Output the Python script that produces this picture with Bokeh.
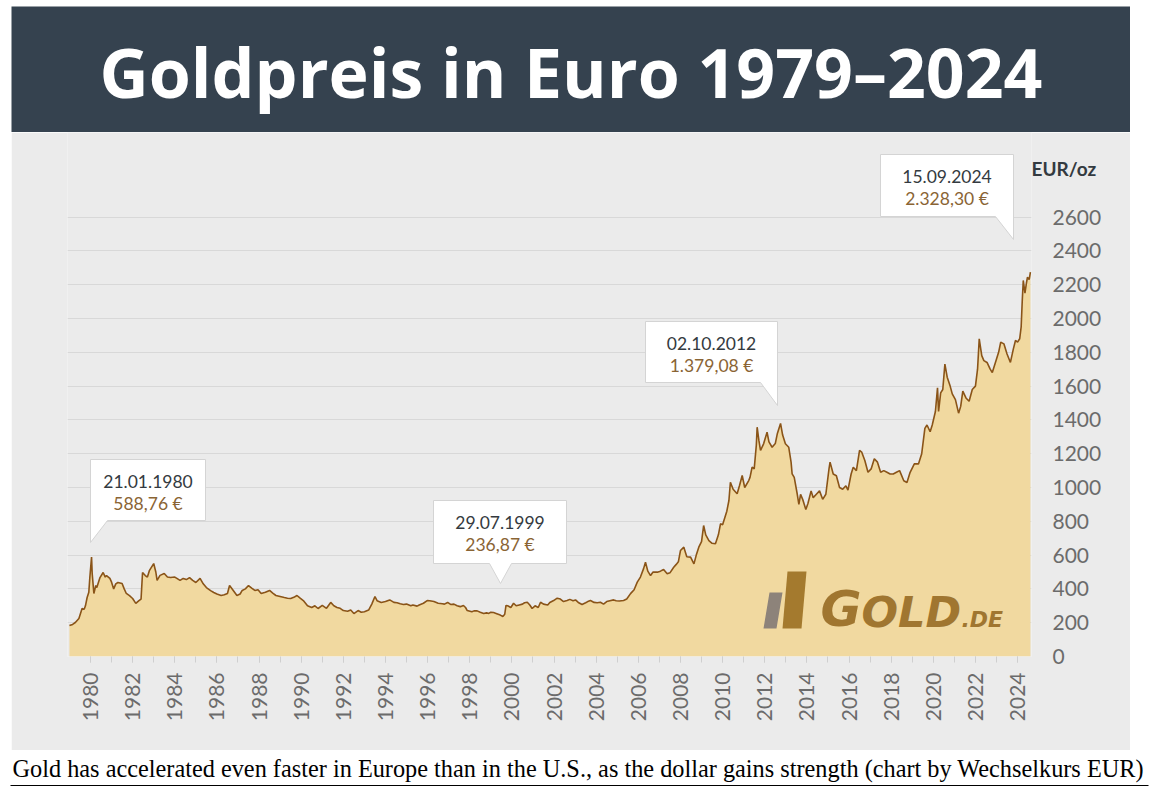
import math
from bokeh.plotting import figure
from bokeh.models import Range1d, FixedTicker, Label, ColumnDataSource, LinearAxis
from bokeh.layouts import column, row
from bokeh.embed import file_html
from bokeh.resources import INLINE
from bokeh.core.properties import value

# ---------------- data ----------------
years = [
    1979.00, 1979.15, 1979.28, 1979.45, 1979.60, 1979.70, 1979.76, 1979.84, 1979.92, 1979.97,
    1980.05, 1980.08, 1980.16, 1980.25, 1980.30, 1980.45, 1980.60, 1980.70, 1980.76, 1980.92,
    1981.00, 1981.10, 1981.20, 1981.30, 1981.50, 1981.60, 1981.70, 1981.85, 1982.00, 1982.15,
    1982.30, 1982.40, 1982.47, 1982.60, 1982.70, 1982.80, 1983.00, 1983.10, 1983.16, 1983.30,
    1983.50, 1983.65, 1983.80, 1984.00, 1984.10, 1984.25, 1984.40, 1984.55, 1984.70, 1984.85,
    1985.00, 1985.20, 1985.35, 1985.50, 1985.70, 1985.85, 1986.00, 1986.20, 1986.35, 1986.50,
    1986.60, 1986.75, 1986.95, 1987.10, 1987.20, 1987.35, 1987.50, 1987.65, 1987.80, 1987.95,
    1988.10, 1988.30, 1988.50, 1988.65, 1988.80, 1989.00, 1989.20, 1989.35, 1989.50, 1989.65,
    1989.80, 1989.95, 1990.10, 1990.30, 1990.50, 1990.65, 1990.80, 1991.00, 1991.20, 1991.40,
    1991.55, 1991.70, 1991.85, 1992.00, 1992.20, 1992.35, 1992.50, 1992.70, 1992.85, 1993.00,
    1993.20, 1993.35, 1993.50, 1993.60, 1993.80, 1994.00, 1994.20, 1994.40, 1994.55, 1994.70,
    1994.85, 1995.00, 1995.20, 1995.30, 1995.50, 1995.60, 1995.80, 1995.98, 1996.10, 1996.30,
    1996.50, 1996.70, 1996.80, 1996.95, 1997.09, 1997.25, 1997.40, 1997.55, 1997.70, 1997.80,
    1997.88, 1998.10, 1998.20, 1998.35, 1998.50, 1998.66, 1998.80, 1998.90, 1999.00, 1999.13,
    1999.25, 1999.35, 1999.45, 1999.57, 1999.66, 1999.72, 1999.80, 1999.95, 2000.08, 2000.20,
    2000.35, 2000.50, 2000.60, 2000.73, 2000.85, 2000.96, 2001.10, 2001.25, 2001.36, 2001.50,
    2001.70, 2001.80, 2001.98, 2002.15, 2002.30, 2002.45, 2002.62, 2002.75, 2002.90, 2003.02,
    2003.15, 2003.33, 2003.50, 2003.60, 2003.73, 2003.90, 2004.05, 2004.20, 2004.35, 2004.50,
    2004.65, 2004.83, 2004.95, 2005.10, 2005.30, 2005.45, 2005.63, 2005.80, 2005.95, 2006.10,
    2006.25, 2006.34, 2006.45, 2006.58, 2006.70, 2006.90, 2007.05, 2007.20, 2007.37, 2007.50,
    2007.68, 2007.80, 2007.90, 2008.00, 2008.16, 2008.30, 2008.48, 2008.64, 2008.75, 2008.87,
    2009.00, 2009.10, 2009.20, 2009.35, 2009.50, 2009.66, 2009.80, 2009.90, 2010.00, 2010.10,
    2010.20, 2010.30, 2010.37, 2010.50, 2010.69, 2010.80, 2010.93, 2011.05, 2011.24, 2011.30,
    2011.40, 2011.50, 2011.60, 2011.64, 2011.72, 2011.80, 2011.95, 2012.11, 2012.20, 2012.35,
    2012.50, 2012.60, 2012.75, 2012.85, 2012.98, 2013.14, 2013.25, 2013.30, 2013.40, 2013.54,
    2013.62, 2013.70, 2013.80, 2013.95, 2014.05, 2014.20, 2014.30, 2014.45, 2014.60, 2014.75,
    2014.90, 2015.05, 2015.10, 2015.25, 2015.40, 2015.55, 2015.70, 2015.85, 2015.95, 2016.10,
    2016.20, 2016.35, 2016.50, 2016.60, 2016.75, 2016.90, 2017.05, 2017.20, 2017.35, 2017.50,
    2017.65, 2017.80, 2017.95, 2018.10, 2018.25, 2018.40, 2018.60, 2018.75, 2018.90, 2019.10,
    2019.30, 2019.45, 2019.60, 2019.70, 2019.85, 2019.95, 2020.10, 2020.20, 2020.25, 2020.35,
    2020.45, 2020.55, 2020.66, 2020.80, 2020.90, 2021.05, 2021.20, 2021.30, 2021.40, 2021.55,
    2021.70, 2021.85, 2022.00, 2022.10, 2022.18, 2022.30, 2022.40, 2022.55, 2022.70, 2022.80,
    2022.90, 2023.00, 2023.10, 2023.20, 2023.35, 2023.50, 2023.66, 2023.80, 2023.90, 2024.00,
    2024.10, 2024.17, 2024.22, 2024.27, 2024.35, 2024.42, 2024.47, 2024.55, 2024.61,
]
eur = [
    183, 190, 201, 225, 284, 280, 300, 349, 380, 470,
    589, 491, 373, 420, 408, 467, 497, 470, 479, 462,
    440, 400, 430, 438, 432, 400, 373, 360, 343, 314,
    331, 340, 497, 479, 470, 510, 550, 500, 450, 480,
    491, 470, 467, 470, 462, 450, 462, 455, 467, 450,
    438, 462, 430, 408, 390, 379, 370, 361, 365, 373,
    420, 395, 361, 370, 391, 400, 420, 405, 391, 395,
    373, 380, 391, 375, 361, 355, 349, 345, 343, 350,
    361, 345, 331, 300, 290, 300, 284, 302, 285, 320,
    300, 290, 285, 272, 268, 275, 254, 272, 262, 265,
    275, 310, 355, 330, 320, 325, 335, 320, 318, 312,
    308, 310, 300, 305, 298, 305, 315, 331, 330, 325,
    315, 312, 310, 320, 308, 310, 300, 295, 302, 290,
    272, 265, 270, 270, 262, 254, 258, 255, 262, 260,
    255, 250, 245, 237, 250, 302, 300, 290, 315, 300,
    305, 310, 318, 321, 305, 284, 300, 290, 321, 310,
    305, 320, 331, 345, 340, 325, 331, 338, 330, 335,
    320, 308, 318, 325, 331, 320, 318, 321, 310, 325,
    330, 335, 330, 328, 331, 340, 372, 395, 440, 470,
    520, 558, 505, 479, 500, 499, 505, 515, 489, 495,
    528, 545, 560, 627, 647, 590, 588, 548, 600, 647,
    680, 775, 720, 686, 670, 667, 720, 785, 780, 820,
    860, 923, 1031, 990, 963, 1010, 1071, 1000, 1041, 1060,
    1120, 1110, 1250, 1357, 1280, 1219, 1260, 1327, 1270, 1238,
    1260, 1320, 1379, 1310, 1259, 1238, 1150, 1081, 1060, 963,
    900, 960, 930, 870, 905, 980, 940, 960, 980, 930,
    960, 1110, 1150, 1080, 1070, 1000, 990, 1010, 985, 1080,
    1120, 1100, 1220, 1210, 1160, 1090, 1110, 1170, 1150, 1090,
    1100, 1090, 1080, 1080, 1090, 1100, 1040, 1030, 1090, 1140,
    1140, 1200, 1350, 1370, 1330, 1370, 1450, 1590, 1450, 1560,
    1580, 1730, 1653, 1600, 1554, 1520, 1440, 1480, 1570, 1530,
    1510, 1580, 1600, 1700, 1880, 1780, 1751, 1740, 1700, 1680,
    1720, 1760, 1800, 1860, 1850, 1790, 1740, 1820, 1870, 1860,
    1880, 1950, 2100, 2225, 2150, 2210, 2244, 2230, 2274,
]

tick_years = list(range(1980, 2025, 2))
minor_years = list(range(1980, 2025))
y_ticks = list(range(0, 2601, 200))

callout_dates = ["21.01.1980", "29.07.1999", "02.10.2012", "15.09.2024"]
callout_values = ["588,76 €", "236,87 €", "1.379,08 €", "2.328,30 €"]

TITLE = "Goldpreis in Euro 1979–2024"
CAPTION = ("Gold has accelerated even faster in Europe than in the U.S., "
           "as the dollar gains strength (chart by Wechselkurs EUR)")
UNIT = "EUR/oz"

# ---------------- layout (page pixels) ----------------
PX_YEAR = 21.07     # pixels per year
PX_EUR = 0.169      # pixels per euro
X1980 = 90          # page x of 1980
Y0 = 656            # page y of value 0
F_LEFT, F_RIGHT, F_TOP = 67, 1031, 132
BASE_FIX = 0.37     # text baseline correction, fraction of font size


def dx(px):
    return 1980 + (px - X1980) / PX_YEAR


def dy(py):
    return (Y0 - py) / PX_EUR


UNIT_POS = 2890     # vertical position (in EUR) of the unit label

# ---------------- title bar ----------------
TS = 68
t = figure(width=1119, height=126, x_range=Range1d(0, 1119), y_range=Range1d(0, 126),
           output_backend="svg", toolbar_location=None, x_axis_location=None,
           y_axis_location=None, min_border=0, min_border_left=0, min_border_right=0,
           min_border_top=0, min_border_bottom=0, outline_line_color=None,
           background_fill_color="#35424f", border_fill_color="#35424f",
           margin=(0, 0, 0, 11))
t.xgrid.visible = False
t.ygrid.visible = False
t.text(x=[559.5], y=[36 + BASE_FIX * TS], text=[TITLE], text_align="center",
       text_baseline="alphabetic", text_color="white", text_font=value("Open Sans"),
       text_font_style="bold", text_font_size=f"{TS}px")

# ---------------- main chart ----------------
p = figure(width=1119, height=618,
           x_range=Range1d(dx(F_LEFT), dx(F_RIGHT)), y_range=Range1d(0, dy(F_TOP)),
           output_backend="svg", toolbar_location=None, y_axis_location="right",
           min_border_left=F_LEFT - 11, min_border_right=1130 - F_RIGHT,
           min_border_top=0, min_border_bottom=750 - Y0,
           background_fill_color="#ebebeb", border_fill_color="#ebebeb",
           outline_line_color=None, margin=(0, 0, 0, 11))

p.xgrid.visible = False
p.ygrid.ticker = FixedTicker(ticks=y_ticks)
p.ygrid.grid_line_color = "#d8d8d8"

p.yaxis.ticker = FixedTicker(ticks=y_ticks)
p.xaxis.ticker = FixedTicker(ticks=tick_years, minor_ticks=minor_years)
for ax in (p.xaxis[0], p.yaxis[0]):
    ax.axis_line_color = None
    ax.major_label_text_font = "Lato"
    ax.major_label_text_font_size = "21px"
    ax.major_label_text_color = "#6b6b6b"
xa = p.xaxis[0]
xa.major_tick_line_color = "#cfcfcf"
xa.minor_tick_line_color = "#cfcfcf"
xa.major_tick_in = 0
xa.major_tick_out = 6
xa.minor_tick_in = 0
xa.minor_tick_out = 6
xa.major_label_orientation = math.pi / 2
xa.major_label_standoff = 10
ya = p.yaxis[0]
ya.major_tick_line_color = None
ya.minor_tick_line_color = None
ya.major_tick_in = 0
ya.major_tick_out = 0
ya.major_label_standoff = 21

# unit label, drawn as the single tick label of a second right axis
unit_axis = LinearAxis(ticker=FixedTicker(ticks=[UNIT_POS]),
                       major_label_overrides={UNIT_POS: UNIT},
                       axis_line_color=None, major_tick_line_color=None,
                       minor_tick_line_color=None, major_tick_in=0, major_tick_out=0,
                       major_label_standoff=-73, major_label_text_font="Lato",
                       major_label_text_font_style="bold",
                       major_label_text_font_size="19px",
                       major_label_text_color="#333a40")
p.add_layout(unit_axis, "right")

src = ColumnDataSource(dict(x=years, y=eur))
p.varea(x="x", y1=0, y2="y", source=src, fill_color="#f1d9a0")
p.line(x="x", y="y", source=src, line_color="#8a5418", line_width=1.6)

# logo
p.patch([dx(763), dx(776), dx(782), dx(769)], [dy(628), dy(628), dy(592), dy(592)],
        fill_color="#8d837a", line_color=None)
p.patch([dx(782), dx(801), dx(806), dx(787)], [dy(628), dy(628), dy(571), dy(571)],
        fill_color="#a47a2e", line_color=None)
for txt, xp, size in (("G", 820, 50), ("OLD", 861, 43), (".DE", 961, 22)):
    p.add_layout(Label(x=dx(xp), y=dy(627 - BASE_FIX * size), text=txt,
                       text_font="DejaVu Sans", text_font_style="bold italic",
                       text_font_size=f"{size}px", text_color="#a07630",
                       text_baseline="alphabetic"))

# callouts (page pixel outlines)
callout_shapes = [
    [(90, 459), (205, 459), (205, 520), (107, 520), (90, 542)],
    [(433, 500), (566, 500), (566, 563), (511, 563), (500, 583), (489, 563), (433, 563)],
    [(645, 321), (777, 321), (777, 405), (760, 382), (645, 382)],
    [(880, 154), (1013, 154), (1013, 239), (995, 216), (880, 216)],
]
callout_boxes = [(90, 205, 459), (433, 566, 500), (645, 777, 321), (880, 1013, 154)]
for shape in callout_shapes:
    p.patch([dx(a) for a, _ in shape], [dy(b) for _, b in shape],
            fill_color="white", line_color="#d4d4d4", line_width=1)
CS = 17.5
cx = [dx((l + r) / 2) for l, r, _ in callout_boxes]
p.text(x=cx, y=[dy(tp + 28 - BASE_FIX * CS) for _, _, tp in callout_boxes],
       text=callout_dates, text_align="center", text_baseline="alphabetic",
       text_font=value("Lato"), text_font_size=f"{CS}px", text_color="#343a40")
p.text(x=cx, y=[dy(tp + 50 - BASE_FIX * CS) for _, _, tp in callout_boxes],
       text=callout_values, text_align="center", text_baseline="alphabetic",
       text_font=value("Lato"), text_font_size=f"{CS}px", text_color="#8a6434")

# ---------------- caption ----------------
KS = 24.3
c = figure(width=1150, height=38, x_range=Range1d(0, 1150), y_range=Range1d(0, 38),
           output_backend="svg", toolbar_location=None, x_axis_location=None,
           y_axis_location=None, min_border=0, min_border_left=0, min_border_right=0,
           min_border_top=0, min_border_bottom=0, outline_line_color=None,
           background_fill_color="white", border_fill_color="white")
c.xgrid.visible = False
c.ygrid.visible = False
c.text(x=[12], y=[11 + BASE_FIX * KS], text=[CAPTION], text_align="left",
       text_baseline="alphabetic", text_font=value("Liberation Serif"),
       text_font_size=f"{KS}px", text_color="black")
c.line(x=[10, 1148], y=[3, 3], line_color="black", line_width=1.2)

layout = column(row(t), p, row(c), spacing=0, margin=(6, 0, 0, 0))
open("out.html", "w").write(file_html(layout, INLINE))
